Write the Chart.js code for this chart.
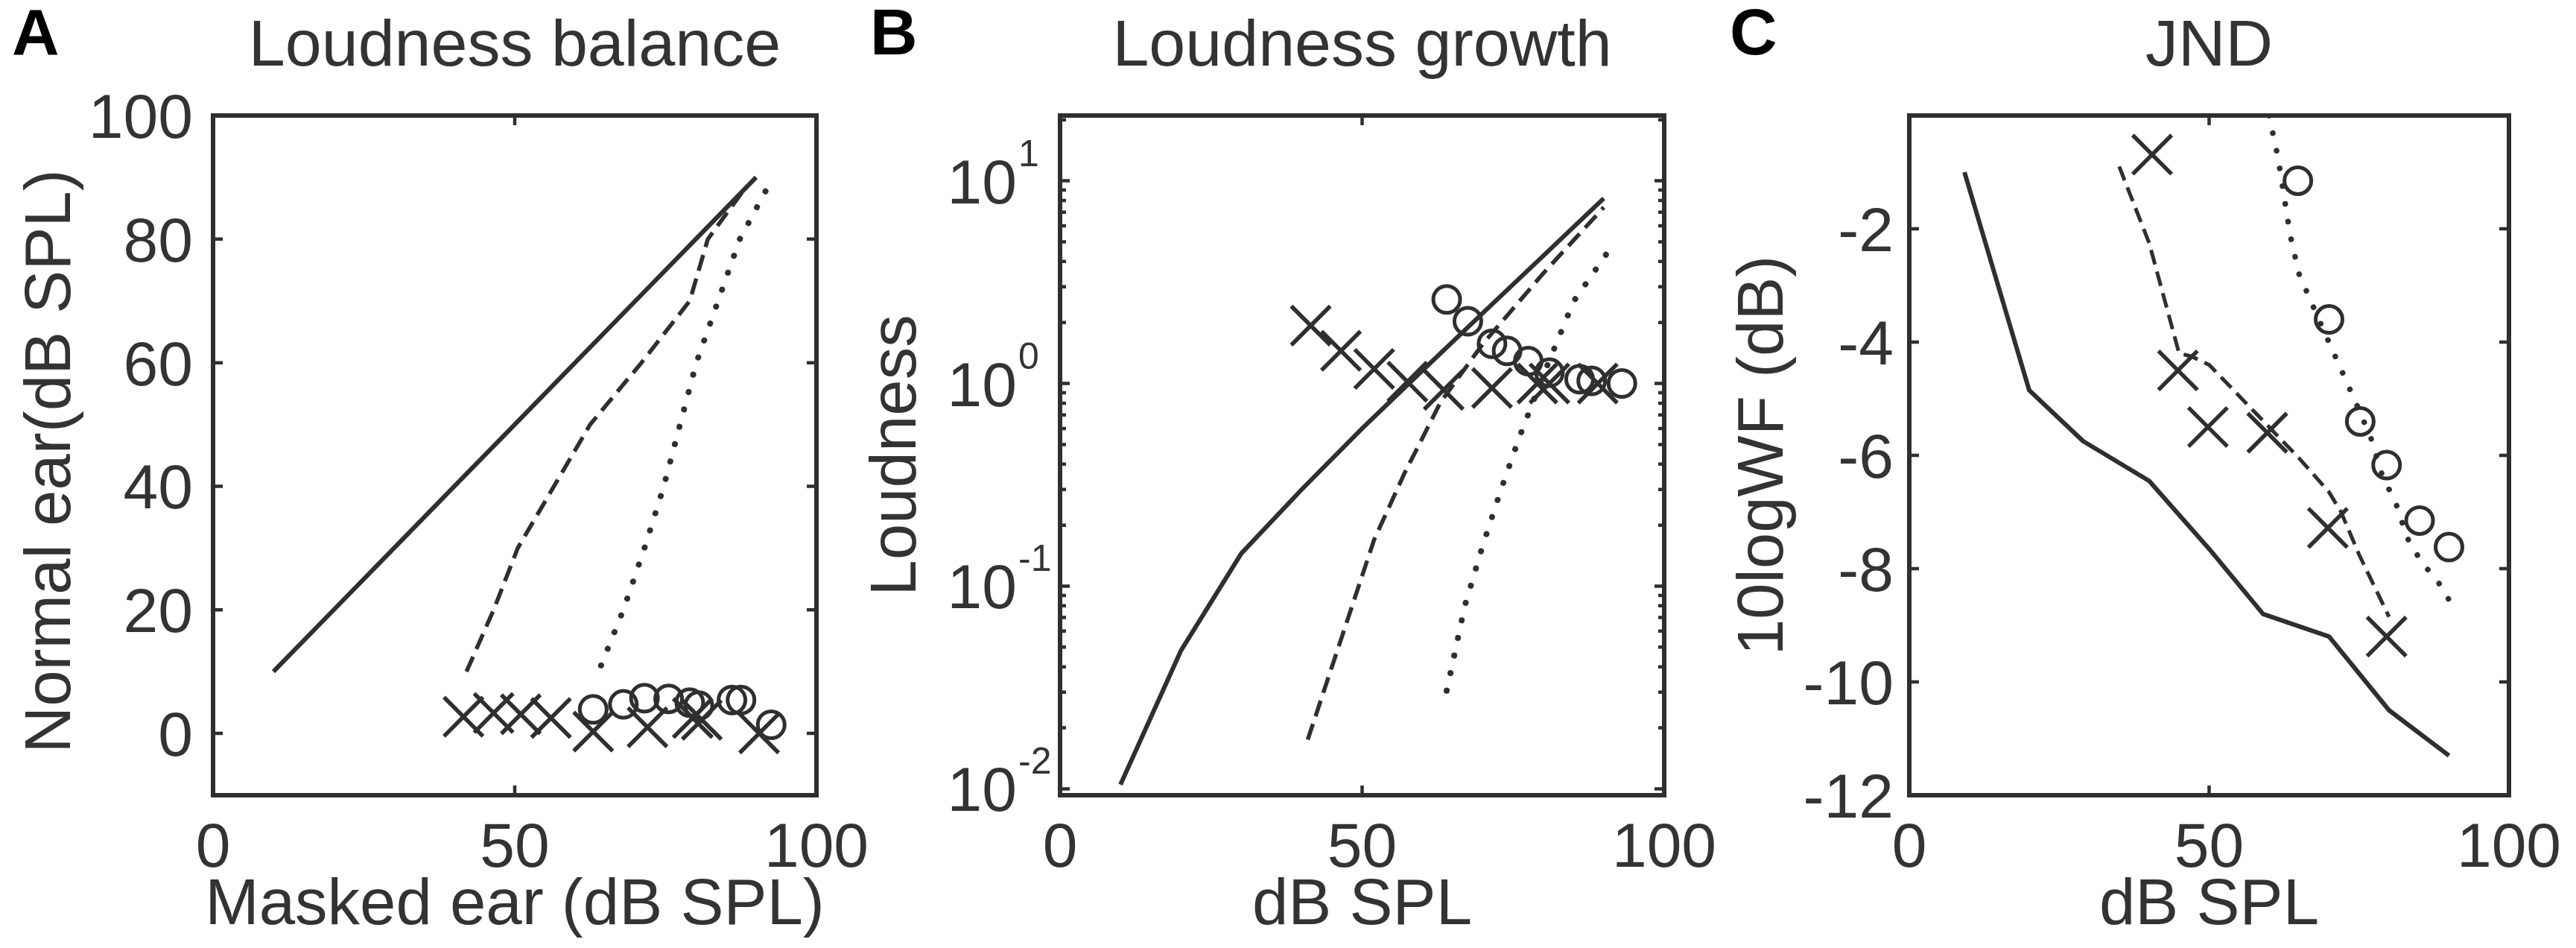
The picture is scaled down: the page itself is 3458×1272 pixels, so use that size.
<!DOCTYPE html>
<html>
<head>
<meta charset="utf-8">
<title>Loudness balance, loudness growth and JND</title>
<script src="https://cdn.jsdelivr.net/npm/chart.js"></script>
<style>
    html, body { margin: 0; padding: 0; background: #fff; }
    body { width: 3458px; height: 1272px; position: relative; overflow: hidden; }
    canvas { position: absolute; top: 0; }
</style>
</head>
<body>
<canvas id="panel-a" width="1166" height="1272" style="left:0px"></canvas>
<canvas id="panel-b" width="1146" height="1272" style="left:1166px"></canvas>
<canvas id="panel-c" width="1146" height="1272" style="left:2312px"></canvas>
<script>
// ticks shared by the three x axes (dB SPL)
const xTicks = [0, 50, 100];

// A - loudness balance: masked ear (x) against normal ear (y)
const balanceSolidX = [10, 20, 30, 40, 50, 60, 70, 80, 90];
const balanceSolidY = [10, 20, 30, 40, 50, 60, 70, 80, 90];
const balanceDashX = [42, 46.5, 50.5, 56.5, 62.5, 71, 79, 82, 88];
const balanceDashY = [10, 20, 30, 40, 50, 60, 70, 80, 88];
const balanceDotX = [64.3, 68, 71.5, 74.7, 77.4, 80.1, 83.7, 87.3, 92.8];
const balanceDotY = [11, 20, 30, 40, 50, 60, 70, 80, 90];
const balanceCrossX = [41.5, 46.5, 51, 56, 63, 72, 79.5, 81, 90.5];
const balanceCrossY = [2.7, 3.3, 3.1, 2.5, 0.3, 1.0, 2.5, 2.2, 0];
const balanceCircleX = [63, 68, 71.5, 75.5, 79, 80.5, 86, 87.5, 92.5];
const balanceCircleY = [3.9, 4.7, 5.7, 5.6, 5.0, 4.5, 5.4, 5.4, 1.4];
const balanceYTicks = [0, 20, 40, 60, 80, 100];

// B - loudness growth (log loudness)
const growthSolidX = [10, 20, 30, 40, 50, 60, 70, 80, 90];
const growthSolidY = [0.0105, 0.048, 0.145, 0.30, 0.6, 1.16, 2.23, 4.27, 8.2];
const growthDashX = [41, 45, 52, 57, 63, 70, 80, 90];
const growthDashY = [0.0175, 0.04, 0.17, 0.36, 0.81, 1.57, 3.5, 7.4];
const growthDotX = [64, 67, 70, 73, 76, 80, 85, 92];
const growthDotY = [0.0305, 0.08, 0.16, 0.30, 0.54, 1.1, 2.54, 5.08];
const growthCrossX = [41.5, 46.5, 52, 57.5, 63.5, 71.5, 79, 81, 89];
const growthCrossY = [1.93, 1.45, 1.18, 1.02, 0.93, 0.95, 1.0, 1.0, 1.0];
const growthCircleX = [64, 67.5, 71.5, 74, 77.5, 81, 86, 88, 93];
const growthCircleY = [2.6, 2.03, 1.57, 1.45, 1.29, 1.13, 1.05, 1.03, 1.0];
const growthYTicks = [0.01, 0.1, 1, 10];
const growthYExponents = ['-2', '-1', '0', '1'];
const growthYMinor = [0.02, 0.03, 0.04, 0.05, 0.06, 0.07, 0.08, 0.09,
                      0.2, 0.3, 0.4, 0.5, 0.6, 0.7, 0.8, 0.9,
                      2, 3, 4, 5, 6, 7, 8, 9, 20];

// C - JND, 10logWF in dB
const jndSolidX = [9.2, 20, 29, 40, 50, 59, 70, 80, 90];
const jndSolidY = [-1.0, -4.85, -5.75, -6.45, -7.65, -8.8, -9.2, -10.5, -11.3];
const jndDashX = [35, 40, 45, 47, 50, 55, 60, 65, 70, 72, 75, 80];
const jndDashY = [-0.9, -2.25, -4.2, -4.25, -4.4, -4.95, -5.5, -6.05, -6.65, -7.0, -7.75, -8.85];
const jndDotX = [60, 61.5, 63.5, 65, 68.5, 72.5, 75, 77, 79, 81, 83, 85.5, 88, 90];
const jndDotY = [0, -0.75, -2.1, -2.8, -3.65, -4.6, -5.2, -5.7, -6.4, -6.8, -7.45, -7.9, -8.2, -8.55];
const jndCrossX = [40.5, 44.8, 49.8, 59.7, 69.8, 79.6];
const jndCrossY = [-0.69, -4.5, -5.5, -5.6, -7.28, -9.2];
const jndCircleX = [64.8, 70, 75.2, 79.6, 85.1, 90];
const jndCircleY = [-1.15, -3.6, -5.4, -6.17, -7.15, -7.62];
const jndYTicks = [-12, -10, -8, -6, -4, -2];

const ink = '#2f2f2f';
const face = "'Liberation Sans', Arial, Helvetica, sans-serif";

function pairs(xs, ys) {
    return xs.map((x, i) => ({ x: x, y: ys[i] }));
}

// a model curve: solid, dashed or dotted
function curve(xs, ys, dash, width, cap) {
    return {
        data: pairs(xs, ys),
        showLine: true,
        borderColor: ink,
        borderWidth: width,
        borderDash: dash,
        borderCapStyle: cap || 'butt',
        borderJoinStyle: 'round',
        pointRadius: 0,
        tension: 0
    };
}

// measured points: crosses and open circles
function marks(xs, ys, style) {
    const ring = style === 'circle';
    return {
        data: pairs(xs, ys),
        showLine: false,
        pointStyle: style,
        pointRadius: ring ? 18 : 37,
        pointBorderWidth: ring ? 5 : 5.5,
        pointBorderColor: ink,
        pointBackgroundColor: 'rgba(0,0,0,0)',
        borderColor: ink,
        backgroundColor: 'rgba(0,0,0,0)'
    };
}

// box round the plot, inward ticks (matlab style) and all the texts
const frame = {
    id: 'frame',
    afterDraw(chart, args, o) {
        const ctx = chart.ctx;
        const a = chart.chartArea;
        const sx = chart.scales.x, sy = chart.scales.y;
        const midX = (a.left + a.right) / 2;
        const midY = (a.top + a.bottom) / 2;

        ctx.save();
        ctx.strokeStyle = ink;
        ctx.lineWidth = 6;
        ctx.strokeRect(a.left, a.top, a.right - a.left, a.bottom - a.top);

        ctx.lineWidth = 4.5;
        ctx.beginPath();
        xTicks.forEach(v => {
            const px = sx.getPixelForValue(v);
            ctx.moveTo(px, a.bottom); ctx.lineTo(px, a.bottom - 13);
            ctx.moveTo(px, a.top); ctx.lineTo(px, a.top + 13);
        });
        o.yTicks.forEach(v => {
            const py = sy.getPixelForValue(v);
            ctx.moveTo(a.left, py); ctx.lineTo(a.left + 13, py);
            ctx.moveTo(a.right, py); ctx.lineTo(a.right - 13, py);
        });
        (o.yMinor || []).forEach(v => {
            const py = sy.getPixelForValue(v);
            ctx.moveTo(a.left, py); ctx.lineTo(a.left + 8, py);
            ctx.moveTo(a.right, py); ctx.lineTo(a.right - 8, py);
        });
        ctx.stroke();

        ctx.fillStyle = '#333333';
        ctx.textBaseline = 'alphabetic';

        // tick labels
        ctx.font = '84px ' + face;
        ctx.textAlign = 'center';
        xTicks.forEach(v => ctx.fillText(String(v), sx.getPixelForValue(v), a.bottom + 96));
        o.yTicks.forEach((v, i) => {
            const py = sy.getPixelForValue(v) + 30;
            if (o.yExponents) {
                ctx.font = '84px ' + face;
                ctx.textAlign = 'right';
                ctx.fillText('10', a.left - 58, py);
                ctx.font = '50px ' + face;
                ctx.textAlign = 'left';
                ctx.fillText(o.yExponents[i], a.left - 56, py - 50);
            } else {
                ctx.textAlign = 'right';
                ctx.fillText(String(v), a.left - o.labelGap, py);
            }
        });

        // title and axis titles
        ctx.font = '88px ' + face;
        ctx.textAlign = 'center';
        ctx.fillText(o.title, midX, 88);
        ctx.font = '87px ' + face;
        ctx.fillText(o.xTitle, midX, a.bottom + 173);
        ctx.save();
        ctx.translate(a.left - o.yTitleGap, midY + (o.yTitleShift || 0));
        ctx.rotate(-Math.PI / 2);
        ctx.fillText(o.yTitle, 0, 0);
        ctx.restore();

        // panel letter
        ctx.fillStyle = '#000';
        ctx.font = 'bold 88px ' + face;
        ctx.textAlign = 'left';
        ctx.fillText(o.letter, o.letterX, 73);
        ctx.restore();
    }
};

function makePanel(id, datasets, yScale, padding, frameOpts) {
    return new Chart(document.getElementById(id), {
        type: 'scatter',
        data: { datasets: datasets },
        options: {
            responsive: false,
            animation: false,
            devicePixelRatio: 1,
            events: [],
            layout: { padding: padding },
            scales: {
                x: { type: 'linear', min: 0, max: 100, display: false },
                y: Object.assign({ display: false }, yScale)
            },
            plugins: {
                legend: { display: false },
                tooltip: { enabled: false },
                frame: frameOpts
            }
        },
        plugins: [frame]
    });
}

makePanel('panel-a', [
    curve(balanceSolidX, balanceSolidY, [], 6),
    curve(balanceDashX, balanceDashY, [22, 11], 5.5),
    curve(balanceDotX, balanceDotY, [0.1, 24], 8, 'round'),
    marks(balanceCrossX, balanceCrossY, 'crossRot'),
    marks(balanceCircleX, balanceCircleY, 'circle')
], { type: 'linear', min: -10, max: 100 },
   { left: 286, right: 70, top: 155, bottom: 205 },
   { letter: 'A', letterX: 16, title: 'Loudness balance', xTitle: 'Masked ear (dB SPL)',
     yTitle: 'Normal ear(dB SPL)', yTitleGap: 192, yTitleShift: 8, yTicks: balanceYTicks, labelGap: 27 });

makePanel('panel-b', [
    curve(growthSolidX, growthSolidY, [], 6),
    curve(growthDashX, growthDashY, [22, 11], 5.5),
    curve(growthDotX, growthDotY, [0.1, 24], 8, 'round'),
    marks(growthCrossX, growthCrossY, 'crossRot'),
    marks(growthCircleX, growthCircleY, 'circle')
], { type: 'logarithmic', min: 0.0093, max: 21 },
   { left: 257, right: 78, top: 155, bottom: 205 },
   { letter: 'B', letterX: 2, title: 'Loudness growth', xTitle: 'dB SPL',
     yTitle: 'Loudness', yTitleGap: 194, yTicks: growthYTicks, yExponents: growthYExponents,
     yMinor: growthYMinor });

makePanel('panel-c', [
    curve(jndSolidX, jndSolidY, [], 6),
    curve(jndDashX, jndDashY, [20, 10], 5),
    curve(jndDotX, jndDotY, [0.1, 24], 7.5, 'round'),
    marks(jndCrossX, jndCrossY, 'crossRot'),
    marks(jndCircleX, jndCircleY, 'circle')
], { type: 'linear', min: -12, max: 0 },
   { left: 251, right: 90, top: 155, bottom: 205 },
   { letter: 'C', letterX: 10, title: 'JND', xTitle: 'dB SPL',
     yTitle: '10logWF (dB)', yTitleGap: 170, yTicks: jndYTicks, labelGap: 21 });
</script>
</body>
</html>
